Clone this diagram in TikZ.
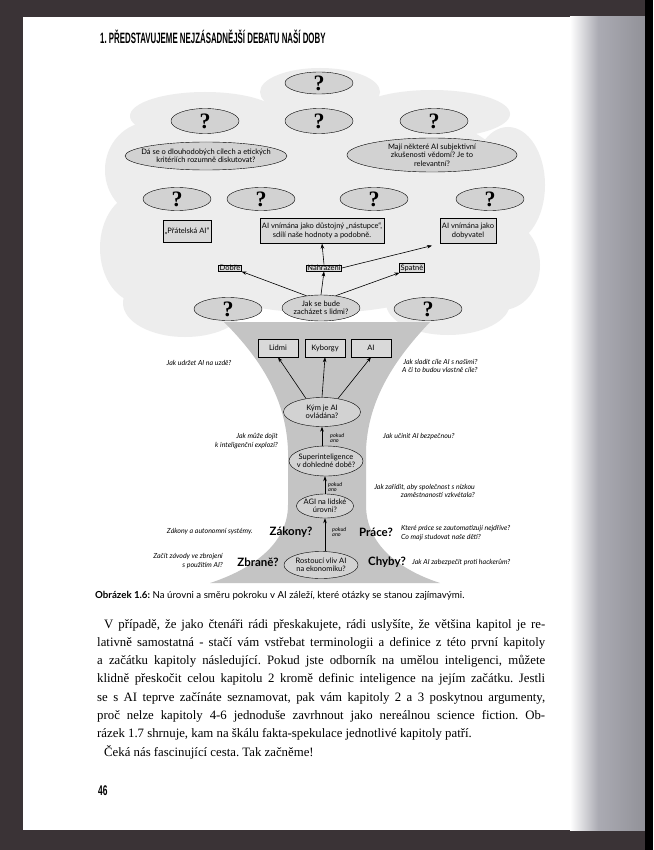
\documentclass[tikz,border=0pt]{standalone}
\usepackage{fontspec}
\usepackage{graphicx}
\setmainfont{Liberation Serif}
\newfontfamily\diagfont{Lato}
\newfontfamily\headfont{Liberation Sans}
\usetikzlibrary{shapes.geometric, arrows.meta, positioning}
\definecolor{framedark}{HTML}{3A3336}
\definecolor{sidegray}{HTML}{ABABB3}
\definecolor{cloudgray}{HTML}{EDEDED}
\definecolor{trunkgray}{HTML}{C4C4C4}
\definecolor{qfill}{HTML}{D2D2D2}
\definecolor{boxfill}{HTML}{D9D9D9}
\newcommand{\bodyline}[2]{\makebox[#1][s]{#2}}
\frenchspacing

\begin{document}
\begin{tikzpicture}[x=1pt, y=-1pt,
  qmark/.style={ellipse, draw, thin, fill=qfill, inner sep=0pt, minimum width=68pt, minimum height=23pt, font=\rmfamily\bfseries\fontsize{22}{22}\selectfont},
  qtext/.style={ellipse, draw, thin, fill=qfill, inner xsep=-14pt, inner ysep=0pt, align=center, font=\diagfont\fontsize{7.5}{8.5}\selectfont},
  qbox/.style={rectangle, draw, thin, fill=boxfill, inner sep=2pt, align=center, font=\diagfont\fontsize{7.5}{9}\selectfont},
  tagbox/.style={rectangle, draw, thin, fill=boxfill, inner xsep=1pt, inner ysep=0.5pt, font=\diagfont\fontsize{7.5}{8}\selectfont},
  note/.style={inner sep=0pt, font=\diagfont\itshape\fontsize{7}{8.5}\selectfont},
  ifyes/.style={inner sep=0pt, align=left, font=\diagfont\itshape\fontsize{5.5}{5.5}\selectfont},
  topic/.style={inner sep=0pt, font=\diagfont\bfseries\fontsize{11.5}{12}\selectfont},
  bodytext/.style={inner sep=0pt, anchor=base west, font=\fontsize{12.8}{14}\selectfont},
  arr/.style={-{Stealth[length=5pt,width=3.6pt]}, line width=0.6pt}
]
\useasboundingbox (0,0) rectangle (653,850);

% page and book edges
\fill[framedark] (0,0) rectangle (653,850);
\fill[white] (23,17) rectangle (645,830);
\shade[left color=white, right color=sidegray] (570,17) rectangle (598,830);
\shade[left color=sidegray, right color=sidegray!85!black] (598,17) rectangle (645,830);
\fill[black] (645,0) rectangle (653,850);

% header
\node[inner sep=0pt, anchor=base west] (header) at (100,44)
  {\scalebox{0.525}[1]{\headfont\bfseries\fontsize{15}{15}\selectfont 1. PŘEDSTAVUJEME NEJZÁSADNĚJŠÍ DEBATU NAŠÍ DOBY}};

% cloud
\fill[cloudgray] (322,205) ellipse [x radius=205pt, y radius=108pt];
\fill[cloudgray] (320,92) ellipse [x radius=60pt, y radius=24pt];
\fill[cloudgray] (205,116) ellipse [x radius=75pt, y radius=24pt];
\fill[cloudgray] (432,114) ellipse [x radius=78pt, y radius=24pt];
\fill[cloudgray] (150,170) ellipse [x radius=45pt, y radius=48pt];
\fill[cloudgray] (140,248) ellipse [x radius=40pt, y radius=55pt];
\fill[cloudgray] (185,303) ellipse [x radius=62pt, y radius=34pt];
\fill[cloudgray] (448,303) ellipse [x radius=62pt, y radius=32pt];
\fill[cloudgray] (508,185) ellipse [x radius=37pt, y radius=58pt];
\fill[cloudgray] (502,265) ellipse [x radius=38pt, y radius=45pt];

% trunk
\fill[trunkgray] (224,322) .. controls (262,360) and (286,400) .. (288,450)
  -- (288,505) .. controls (288,545) and (250,570) .. (210,583)
  -- (440,583) .. controls (400,570) and (366,545) .. (366,505)
  -- (366,450) .. controls (368,400) and (394,360) .. (430,322) -- cycle;

% crown
\node[qmark, minimum height=22pt] (qtop) at (319,83) {?};
\node[qmark, minimum height=25pt] (qa) at (205,121) {?};
\node[qmark, minimum height=25pt] (qb) at (319,121) {?};
\node[qmark, minimum height=25pt] (qc) at (434,121) {?};
\node[qtext, minimum width=162pt, minimum height=28pt] (goals) at (206,156)
  {Dá se o dlouhodobých cílech a etických\\kritériích rozumně diskutovat?};
\node[qtext, minimum width=170pt, minimum height=34pt] (conscious) at (432,155)
  {Mají některé AI subjektivní\\zkušenosti vědomí? Je to\\relevantní?};
\node[qmark] (qd) at (177,199) {?};
\node[qmark] (qe) at (261,199) {?};
\node[qmark] (qf) at (374,199) {?};
\node[qmark] (qg) at (490,199) {?};

\node[qbox, minimum height=22pt] (friendly) at (187,231) {„Přátelská AI“};
\node[qbox, minimum height=25pt] (successor) at (322,231)
  {AI vnímána jako důstojný „nástupce“,\\sdílí naše hodnoty a podobně.};
\node[qbox, minimum height=25pt] (conqueror) at (468,231) {AI vnímána jako\\dobyvatel};

\node[tagbox] (good) at (230,268) {Dobře};
\node[tagbox] (replaced) at (324,268) {Nahrazeni};
\node[tagbox] (bad) at (412,268) {Špatně};

\node[qtext, inner xsep=0pt, minimum width=78pt, minimum height=26pt] (humans) at (321,308)
  {Jak se bude\\zacházet s lidmi?};
\node[qmark] (qh) at (228,309) {?};
\node[qmark] (qi) at (428,309) {?};

% trunk nodes
\node[qbox, minimum width=40pt, minimum height=18pt] (people) at (278,348) {Lidmi};
\node[qbox, minimum width=40pt, minimum height=18pt] (cyborgs) at (325,348) {Kyborgy};
\node[qbox, minimum width=40pt, minimum height=18pt] (machines) at (371,348) {AI};

\node[qtext, inner xsep=0pt, minimum width=77pt, minimum height=29pt] (control) at (322,412)
  {Kým je AI\\ovládána?};
\node[qtext, inner xsep=-10pt, minimum width=74pt, minimum height=30pt] (super) at (326,461)
  {Superinteligence\\v dohledné době?};
\node[qtext, inner xsep=-4pt, minimum width=57pt, minimum height=24pt] (agi) at (325,506)
  {AGI na lidské\\úrovni?};
\node[qtext, inner xsep=-4pt, minimum width=74pt, minimum height=27pt] (economy) at (321,565)
  {Rostoucí vliv AI\\na ekonomiku?};

% questions around the trunk
\node[note] (leash) at (199,363) {Jak udržet AI na uzdě?};
\node[note, anchor=west, align=right] (align) at (402,366)
  {Jak sladit cíle AI s našimi?\\A či to budou vlastně cíle?};
\node[note, anchor=east, align=right] (explosion) at (278,441)
  {Jak může dojít\\k inteligenční explozi?};
\node[ifyes, anchor=west] (yesa) at (330,438) {pokud\\ano};
\node[note, anchor=west] (safe) at (383,437) {Jak učinit AI bezpečnou?};
\node[ifyes, anchor=west] (yesb) at (328,487) {pokud\\ano};
\node[note, anchor=east, align=right] (thrive) at (475,491)
  {Jak zařídit, aby společnost s nízkou\\zaměstnaností vzkvétala?};
\node[note, anchor=east] (lawnote) at (253,532) {Zákony a autonomní systémy.};
\node[topic] (laws) at (291,532) {Zákony?};
\node[ifyes, anchor=west] (yesc) at (332,532) {pokud\\ano};
\node[topic] (jobs) at (376,532) {Práce?};
\node[note, anchor=west, align=left] (jobnote) at (401,533)
  {Které práce se zautomatizují nejdříve?\\Co mají studovat naše děti?};
\node[note, anchor=east, align=right] (armsnote) at (223,561)
  {Začít závody ve zbrojení\\s použitím AI?};
\node[topic] (arms) at (258,562) {Zbraně?};
\node[topic] (bugs) at (387,562) {Chyby?};
\node[note, anchor=west] (hacknote) at (412,562) {Jak AI zabezpečit proti hackerům?};

% arrows
\draw[arr] (humans.140) -- (good.south east);
\draw[arr] (humans.north) -- (replaced.south);
\draw[arr] (humans.40) -- (bad.south west);
\draw[arr] (replaced.north) -- (successor.south);
\draw[arr, shorten >=8pt] (replaced.east) -- (conqueror.south west);
\draw[arr] (control.140) -- (people.south);
\draw[arr] (control.north) -- (cyborgs.south);
\draw[arr] (control.40) -- (machines.south);
\draw[arr] (super.north -| control.south) -- (control.south);
\draw[arr] (agi.north) -- (super.south -| agi.north);
\draw[arr] (economy.north -| agi.south) -- (agi.south);

% caption and text
\node[inner sep=0pt, anchor=base west, font=\diagfont\fontsize{9.7}{11}\selectfont] (caption) at (95,598)
  {\textbf{Obrázek 1.6:} Na úrovni a směru pokroku v AI záleží, které otázky se stanou zajímavými.};
\node[bodytext] (line1) at (104,628) {\bodyline{441pt}{V případě, že jako čtenáři rádi přeskakujete, rádi uslyšíte, že většina kapitol je re-}};
\node[bodytext] (line2) at (97,646.3) {\bodyline{448pt}{lativně samostatná - stačí vám vstřebat terminologii a definice z této první kapitoly}};
\node[bodytext] (line3) at (97,664.6) {\bodyline{448pt}{a začátku kapitoly následující. Pokud jste odborník na umělou inteligenci, můžete}};
\node[bodytext] (line4) at (97,682.9) {\bodyline{448pt}{klidně přeskočit celou kapitolu 2 kromě definic inteligence na jejím začátku. Jestli}};
\node[bodytext] (line5) at (97,701.2) {\bodyline{448pt}{se s AI teprve začínáte seznamovat, pak vám kapitoly 2 a 3 poskytnou argumenty,}};
\node[bodytext] (line6) at (97,719.5) {\bodyline{448pt}{proč nelze kapitoly 4-6 jednoduše zavrhnout jako nereálnou science fiction. Ob-}};
\node[bodytext] (line7) at (97,737.8) {rázek 1.7 shrnuje, kam na škálu fakta-spekulace jednotlivé kapitoly patří.};
\node[bodytext] (line8) at (104,756.1) {Čeká nás fascinující cesta. Tak začněme!};

% folio
\node[inner sep=0pt, anchor=base west] (folio) at (98,795)
  {\scalebox{0.6}[1]{\headfont\bfseries\fontsize{14}{14}\selectfont 46}};
\end{tikzpicture}
\end{document}
